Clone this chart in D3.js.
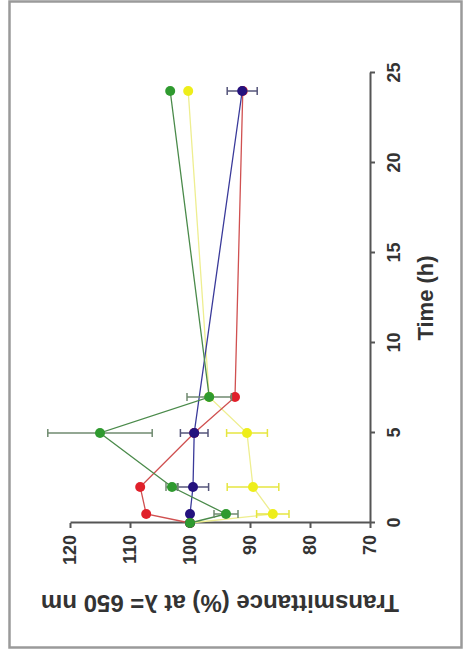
<!DOCTYPE html>
<html>
<head>
<meta charset="utf-8">
<script src="https://cdn.jsdelivr.net/npm/d3@7"></script>
<style>
  body { margin: 0; background: #fff; }
  svg { display: block; }
</style>
</head>
<body>
<div id="chart"></div>
<script>
// time points (h)
const times = [0, 0.5, 2, 5, 7, 24];
// transmittance (%) per series, null = no point
const red = [100, 107.3, 108.3, 99.3, 92.5, 91.2];
const redErr = [0, 0, 0, 0, 0, 0];
const green = [100, 94, 103, 115, 96.8, 103.3];
const greenErr = [0, 2, 1, 8.7, 3.7, 0];
const yellow = [100, 86.2, 89.5, 90.5, 96.8, 100.3];
const yellowErr = [0, 2.7, 4.3, 3.4, 0, 0];
const blue = [100, 100, 99.5, 99.3, null, 91.3];
const blueErr = [0, 0, 2.6, 2.3, 0, 2.5];
const timeTicks = [0, 5, 10, 15, 20, 25];
const transTicks = [70, 80, 90, 100, 110, 120];

const series = [
    { vals: yellow, err: yellowErr, fill: "#eeee1a", line: "#eeee90", bar: "#e6e640" },
    { vals: red, err: redErr, fill: "#e0202a", line: "#d05050", bar: "#b04040" },
    { vals: blue, err: blueErr, fill: "#24127e", line: "#3a3a9a", bar: "#55557a" },
    { vals: green, err: greenErr, fill: "#2f9a2f", line: "#4a8a4a", bar: "#6f8a6f" }
];

const svg = d3.select("#chart")
    .append("svg")
    .attr("width", 464)
    .attr("height", 655);

svg.append("rect")
    .attr("x", 9.5)
    .attr("y", 1.5)
    .attr("width", 452)
    .attr("height", 646)
    .attr("fill", "none")
    .attr("stroke", "#9a9a9a")
    .attr("stroke-width", 2.5);

// the chart is drawn normally, then turned a quarter turn anticlockwise
const W = 450, H = 300;
const g = svg.append("g")
    .attr("transform", "translate(70,523) rotate(-90)");

const x = d3.scaleLinear().domain([0, 25]).range([0, W]);
const y = d3.scaleLinear().domain([70, 120]).range([H, 0]);

const font = "'Liberation Sans', Arial, sans-serif";

const xAxis = g.append("g")
    .attr("transform", "translate(0," + H + ")")
    .call(d3.axisBottom(x).tickValues(timeTicks).tickSize(5).tickPadding(12).tickSizeOuter(0));
const yAxis = g.append("g")
    .call(d3.axisLeft(y).tickValues(transTicks).tickSize(5).tickPadding(7).tickSizeOuter(0));

[xAxis, yAxis].forEach(a => {
    a.selectAll("path, line").attr("stroke", "#555").attr("stroke-width", 2);
    a.selectAll("text")
        .attr("fill", "#333")
        .style("font-family", font)
        .style("font-weight", "bold")
        .style("font-size", "18px");
});

g.append("text")
    .attr("transform", "translate(-78," + (H / 2) + ") rotate(-90)")
    .attr("text-anchor", "middle")
    .attr("dominant-baseline", "middle")
    .attr("fill", "#333")
    .style("font-family", font)
    .style("font-weight", "bold")
    .style("font-size", "24px")
    .text("Transmittance (%) at λ= 650 nm");

g.append("text")
    .attr("x", W / 2)
    .attr("y", H + 57)
    .attr("text-anchor", "middle")
    .attr("dominant-baseline", "middle")
    .attr("fill", "#333")
    .style("font-family", font)
    .style("font-weight", "bold")
    .style("font-size", "22px")
    .text("Time (h)");

const line = d3.line()
    .defined(d => d.v !== null)
    .x(d => x(d.t))
    .y(d => y(d.v));

series.forEach(s => {
    const pts = times.map((t, i) => ({ t: t, v: s.vals[i], e: s.err[i] }));
    const ok = pts.filter(d => d.v !== null);

    g.append("path")
        .datum(ok)
        .attr("d", line)
        .attr("fill", "none")
        .attr("stroke", s.line)
        .attr("stroke-width", 1.3);

    const bars = g.append("g").selectAll("g")
        .data(ok.filter(d => d.e > 0))
        .enter().append("g")
        .attr("stroke", s.bar)
        .attr("stroke-width", 1.5);
    bars.append("line")
        .attr("x1", d => x(d.t)).attr("x2", d => x(d.t))
        .attr("y1", d => y(d.v - d.e)).attr("y2", d => y(d.v + d.e));
    bars.append("line")
        .attr("x1", d => x(d.t) - 4).attr("x2", d => x(d.t) + 4)
        .attr("y1", d => y(d.v - d.e)).attr("y2", d => y(d.v - d.e));
    bars.append("line")
        .attr("x1", d => x(d.t) - 4).attr("x2", d => x(d.t) + 4)
        .attr("y1", d => y(d.v + d.e)).attr("y2", d => y(d.v + d.e));

    g.append("g").selectAll("circle")
        .data(ok)
        .enter().append("circle")
        .attr("cx", d => x(d.t))
        .attr("cy", d => y(d.v))
        .attr("r", 5)
        .attr("fill", s.fill);
});
</script>
</body>
</html>
